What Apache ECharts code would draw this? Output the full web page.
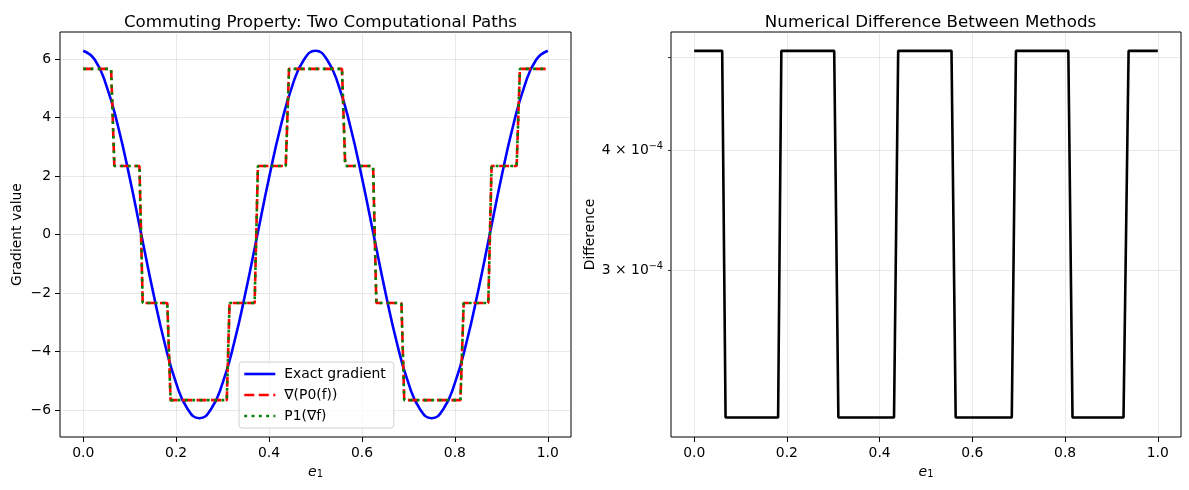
<!DOCTYPE html>
<html>
<head>
<meta charset="utf-8">
<script src="https://cdn.jsdelivr.net/npm/echarts@6/dist/echarts.min.js"></script>
<style>
  html, body { margin: 0; padding: 0; background: #fff; }
  #chart { width: 1189px; height: 490px; }
</style>
</head>
<body>
<div id="chart"></div>
<script>
// left panel: exact gradient
const exactX = [0, 0.025, 0.05, 0.075, 0.1, 0.125, 0.15, 0.175, 0.2, 0.225, 0.25,
  0.275, 0.3, 0.325, 0.35, 0.375, 0.4, 0.425, 0.45, 0.475, 0.5,
  0.525, 0.55, 0.575, 0.6, 0.625, 0.65, 0.675, 0.7, 0.725, 0.75,
  0.775, 0.8, 0.825, 0.85, 0.875, 0.9, 0.925, 0.95, 0.975, 1];
const exactY = [6.28, 5.97, 5.08, 3.69, 1.94, 0, -1.94, -3.69, -5.08, -5.97, -6.28,
  -5.97, -5.08, -3.69, -1.94, 0, 1.94, 3.69, 5.08, 5.97, 6.28,
  5.97, 5.08, 3.69, 1.94, 0, -1.94, -3.69, -5.08, -5.97, -6.28,
  -5.97, -5.08, -3.69, -1.94, 0, 1.94, 3.69, 5.08, 5.97, 6.28];

// step approximations (both paths give the same values)
const stepX = [0, 0.060, 0.067, 0.121, 0.128, 0.181, 0.188, 0.309, 0.315, 0.369, 0.376,
  0.436, 0.443, 0.557, 0.564, 0.624, 0.631, 0.685, 0.691, 0.812, 0.819, 0.872, 0.879,
  0.933, 0.940, 1];
const p0Y = [5.66, 5.66, 2.34, 2.34, -2.34, -2.34, -5.66, -5.66, -2.34, -2.34, 2.34,
  2.34, 5.66, 5.66, 2.34, 2.34, -2.34, -2.34, -5.66, -5.66, -2.34, -2.34, 2.34,
  2.34, 5.66, 5.66];
const p1Y = [5.66, 5.66, 2.34, 2.34, -2.34, -2.34, -5.66, -5.66, -2.34, -2.34, 2.34,
  2.34, 5.66, 5.66, 2.34, 2.34, -2.34, -2.34, -5.66, -5.66, -2.34, -2.34, 2.34,
  2.34, 5.66, 5.66];

// right panel: difference between methods
const diffX = [0, 0.0604, 0.0677, 0.181, 0.188, 0.302, 0.311, 0.431, 0.440, 0.555,
  0.564, 0.685, 0.694, 0.807, 0.816, 0.926, 0.937, 1];
const diffY = [5.075e-4, 5.075e-4, 2.106e-4, 2.106e-4, 5.075e-4, 5.075e-4, 2.106e-4, 2.106e-4,
  5.075e-4, 5.075e-4, 2.106e-4, 2.106e-4, 5.075e-4, 5.075e-4, 2.106e-4, 2.106e-4,
  5.075e-4, 5.075e-4];

const xTicks = [0, 0.2, 0.4, 0.6, 0.8, 1.0];
const leftYTicks = [-6, -4, -2, 0, 2, 4, 6];
const rightYLabels = [3e-4, 4e-4];
const rightYTicks = [3e-4, 4e-4, 5e-4];

const FONT = "DejaVu Sans";
const zip = (xs, ys) => xs.map((x, i) => [x, ys[i]]);
const gridLine = { show: true, lineStyle: { color: "rgba(176,176,176,0.35)", width: 0.8 } };
const tickStyle = { color: "#000", width: 1 };

function xAxis(gridIndex) {
  return {
    type: "value", gridIndex, min: -0.05, max: 1.05,
    name: "{i|e}{sub|1}", nameLocation: "middle", nameGap: 23,
    nameTextStyle: {
      rich: {
        i: { fontFamily: FONT, fontSize: 14, fontStyle: "italic", color: "#000" },
        sub: { fontFamily: FONT, fontSize: 10, color: "#000", verticalAlign: "bottom", padding: [6, 0, 0, 0] }
      }
    },
    axisLine: { show: false, onZero: false },
    axisTick: { show: true, length: 5, customValues: xTicks, lineStyle: tickStyle },
    axisLabel: {
      customValues: xTicks, margin: 9, color: "#000", fontFamily: FONT, fontSize: 13.9,
      formatter: v => v.toFixed(1)
    },
    splitLine: gridLine
  };
}

const option = {
  animation: false,
  textStyle: { fontFamily: FONT },
  title: [
    { text: "Commuting Property: Two Computational Paths", left: 315.5, top: 9, textAlign: "center",
      textStyle: { fontFamily: FONT, fontSize: 16.7, fontWeight: "normal", color: "#000" } },
    { text: "Numerical Difference Between Methods", left: 925.5, top: 9, textAlign: "center",
      textStyle: { fontFamily: FONT, fontSize: 16.7, fontWeight: "normal", color: "#000" } }
  ],
  grid: [
    { left: 60, right: 618, top: 32, bottom: 53, show: true, borderColor: "#000", borderWidth: 1 },
    { left: 671, right: 8, top: 32, bottom: 53, show: true, borderColor: "#000", borderWidth: 1 }
  ],
  legend: {
    left: 239, top: 362, orient: "vertical",
    padding: [5, 8, 5, 4], itemGap: 7, itemWidth: 31, itemHeight: 14,
    backgroundColor: "rgba(255,255,255,0.8)", borderColor: "#d0d0d0", borderWidth: 1, borderRadius: 3,
    itemStyle: { opacity: 0 },
    lineStyle: { width: 2.6 },
    textStyle: { fontFamily: FONT, fontSize: 13.9, color: "#000", padding: [0, 0, 0, 4] },
    data: ["Exact gradient", "∇(P0(f))", "P1(∇f)"]
  },
  xAxis: [xAxis(0), xAxis(1)],
  yAxis: [
    {
      type: "value", gridIndex: 0, min: -6.92, max: 6.92,
      name: "Gradient value", nameLocation: "middle", nameGap: 36,
      nameTextStyle: { fontFamily: FONT, fontSize: 13.9, color: "#000" },
      axisLine: { show: false, onZero: false },
      axisTick: { show: true, length: 5, customValues: leftYTicks, lineStyle: tickStyle },
      axisLabel: {
        customValues: leftYTicks, margin: 9, color: "#000", fontFamily: FONT, fontSize: 13.9,
        formatter: v => (v < 0 ? "\u2212" + Math.abs(v) : String(v))
      },
      splitLine: gridLine
    },
    {
      type: "log", logBase: 10, gridIndex: 1, min: 2.01e-4, max: 5.31e-4,
      name: "Difference", nameLocation: "middle", nameGap: 72,
      nameTextStyle: { fontFamily: FONT, fontSize: 13.9, color: "#000" },
      axisLine: { show: false, onZero: false },
      axisTick: { show: true, length: 3, customValues: rightYTicks, lineStyle: { color: "#000", width: 0.8 } },
      axisLabel: {
        customValues: rightYLabels, margin: 8, color: "#000",
        formatter: v => "{m|" + Math.round(v * 1e4) + " \u00d7 10}{s|\u22124}",
        rich: {
          m: { fontFamily: FONT, fontSize: 13.9, color: "#000", lineHeight: 18 },
          s: { fontFamily: FONT, fontSize: 9.7, color: "#000", verticalAlign: "top", lineHeight: 18, padding: [0, 0, 8, 0] }
        }
      },
      splitLine: gridLine
    }
  ],
  series: [
    { name: "Exact gradient", type: "line", xAxisIndex: 0, yAxisIndex: 0, smooth: true, symbol: "none",
      data: zip(exactX, exactY), lineStyle: { color: "#0000ff", width: 2.6 }, itemStyle: { color: "#0000ff" }, z: 2 },
    { name: "∇(P0(f))", type: "line", xAxisIndex: 0, yAxisIndex: 0, symbol: "none",
      data: zip(stepX, p0Y), lineStyle: { color: "#ff0000", width: 2.6, type: [10, 4.5] }, itemStyle: { color: "#ff0000" }, z: 3 },
    { name: "P1(∇f)", type: "line", xAxisIndex: 0, yAxisIndex: 0, symbol: "none",
      data: zip(stepX, p1Y), lineStyle: { color: "#008000", width: 2.6, type: [2.8, 4.5] }, itemStyle: { color: "#008000" }, z: 4 },
    { name: "Difference", type: "line", xAxisIndex: 1, yAxisIndex: 1, symbol: "none",
      data: zip(diffX, diffY), lineStyle: { color: "#000", width: 2.6 }, itemStyle: { color: "#000" } }
  ]
};

const chart = echarts.init(document.getElementById("chart"));
chart.setOption(option);
</script>
</body>
</html>
